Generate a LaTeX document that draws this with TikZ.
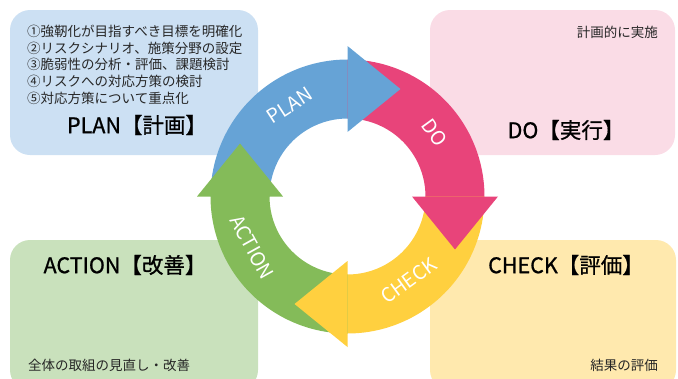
\documentclass[tikz,border=0pt]{standalone}
\usepackage{fontspec}
\setmainfont{Noto Sans CJK JP}
\newfontfamily\titlefont{Noto Sans CJK JP}[FakeBold=0.9]
\usetikzlibrary{calc}
\definecolor{arBlue}{HTML}{66A3D6}
\definecolor{arPink}{HTML}{E8447A}
\definecolor{arYellow}{HTML}{FFD03F}
\definecolor{arGreen}{HTML}{84BB59}
\definecolor{bxBlue}{HTML}{CCE0F3}
\definecolor{bxPink}{HTML}{FADCE6}
\definecolor{bxGreen}{HTML}{C9E1BC}
\definecolor{bxYellow}{HTML}{FFE9AE}
\definecolor{txGray}{HTML}{262626}
\begin{document}
\begin{tikzpicture}[x=1pt,y=1pt,
  panel/.style={rounded corners=20pt},
  smalltext/.style={inner sep=0pt,text=txGray,font=\fontsize{13.5}{16}\selectfont},
  titletext/.style={inner sep=0pt,text=black,font=\titlefont\fontsize{21.5}{24}\selectfont},
  arrowlabel/.style={inner sep=0pt,text=white,font=\fontsize{19.5}{22}\selectfont}]
\useasboundingbox (0,0) rectangle (678,-378);
% panels
\fill[bxBlue,panel] (10,-10) rectangle (258,-155);
\fill[bxPink,panel] (430,-10) rectangle (675,-155);
\fill[bxGreen,panel] (10,-240) rectangle (258,-390);
\fill[bxYellow,panel] (430,-240) rectangle (676,-390);
% panel texts
\node[smalltext,anchor=west] (p1) at (27,-31) {①強靭化が目指すべき目標を明確化};
\node[smalltext,anchor=west] (p2) at (27,-48) {②リスクシナリオ、施策分野の設定};
\node[smalltext,anchor=west] (p3) at (27,-64.5) {③脆弱性の分析・評価、課題検討};
\node[smalltext,anchor=west] (p4) at (27,-81) {④リスクへの対応方策の検討};
\node[smalltext,anchor=west] (p5) at (27,-98) {⑤対応方策について重点化};
\node[titletext] (tplan) at (137,-125) {PLAN【計画】};
\node[smalltext,anchor=east] (d1) at (658,-32) {計画的に実施};
\node[titletext] (tdo) at (566,-130) {DO【実行】};
\node[titletext] (tact) at (125,-265) {ACTION【改善】};
\node[smalltext,anchor=west] (a1) at (28,-365) {全体の取組の見直し・改善};
\node[titletext] (tchk) at (566,-265) {CHECK【評価】};
\node[smalltext,anchor=east] (c1) at (658,-365) {結果の評価};
% cycle
\begin{scope}[shift={(347.5,-196.5)}]
  \def\Ro{137}\def\Ri{78}
  % bodies: start angle a+90, end a-1
  \foreach \a/\c in {90/arBlue,0/arPink,-90/arYellow,180/arGreen}{
    \fill[\c] (\a+90:\Ro) arc[start angle=\a+90,end angle=\a-1,radius=\Ro]
      -- (\a-1:\Ri) arc[start angle=\a-1,end angle=\a+90,radius=\Ri] -- cycle;
  }
  % heads
  \foreach \a/\c in {90/arBlue,0/arPink,-90/arYellow,180/arGreen}{
    \fill[\c] (\a:64.5) -- (\a:150.5) -- (\a-26.24:119.85) -- cycle;
  }
  \node[arrowlabel,rotate=33] (lplan) at (122.5:108) {PLAN};
  \node[arrowlabel,rotate=-54] (ldo) at (36:108) {DO};
  \node[arrowlabel,rotate=36] (lchk) at (-54:104) {CHECK};
  \node[arrowlabel,rotate=-61] (lact) at (208:108) {ACTION};
\end{scope}
\end{tikzpicture}
\end{document}
